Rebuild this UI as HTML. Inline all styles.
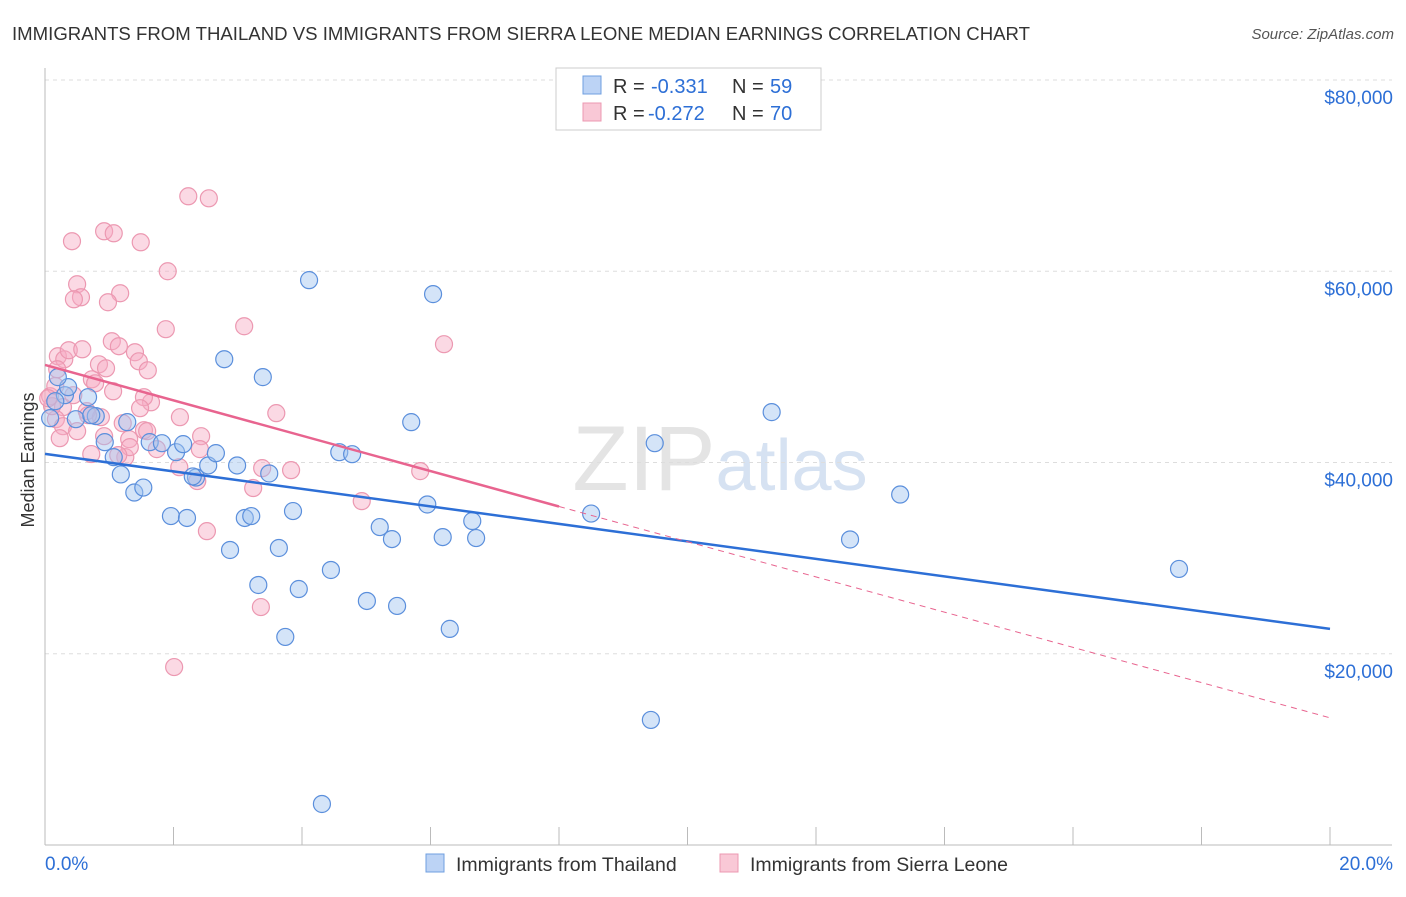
<!DOCTYPE html>
<html><head><meta charset="utf-8"><style>
body{margin:0;background:#fff;font-family:"Liberation Sans",sans-serif;}
svg text{font-family:"Liberation Sans",sans-serif;white-space:pre;}
</style></head><body>
<svg id="chart" width="1406" height="892" xmlns="http://www.w3.org/2000/svg">
<text x="12" y="40" font-size="18.6" fill="#333" textLength="1018">IMMIGRANTS FROM THAILAND VS IMMIGRANTS FROM SIERRA LEONE MEDIAN EARNINGS CORRELATION CHART</text>
<text x="1394" y="39" font-size="15" fill="#555" text-anchor="end" font-style="italic">Source: ZipAtlas.com</text>
<text x="720" y="490" font-size="92" fill="#e4e4e4" text-anchor="middle" font-family="Liberation Serif">ZIP<tspan fill="#d6e2f2" font-family="Liberation Sans" font-size="72">atlas</tspan></text>
<text transform="translate(34,460) rotate(-90)" font-size="18" fill="#333" text-anchor="middle">Median Earnings</text>
<g id="grid"></g><g id="pts"></g><g id="lines"></g>
<g>
<rect x="556" y="68" width="265" height="62" fill="#fff" stroke="#ccc"/>
<rect x="583" y="76" width="18" height="18" fill="#bcd3f5" stroke="#6f9fe0"/>
<rect x="583" y="103" width="18" height="18" fill="#f9c8d6" stroke="#ec98b1"/>
<text x="613" y="93" font-size="20" fill="#333">R =</text><text x="651" y="93" font-size="20" fill="#2d6fd6">-0.331</text>
<text x="732" y="93" font-size="20" fill="#333">N =</text><text x="770" y="93" font-size="20" fill="#2d6fd6">59</text>
<text x="613" y="120" font-size="20" fill="#333">R =</text><text x="648" y="120" font-size="20" fill="#2d6fd6">-0.272</text>
<text x="732" y="120" font-size="20" fill="#333">N =</text><text x="770" y="120" font-size="20" fill="#2d6fd6">70</text>
</g>
<g>
<rect x="426" y="854" width="18" height="18" fill="#bcd3f5" stroke="#6f9fe0"/>
<text x="456" y="871" font-size="19.5" fill="#333">Immigrants from Thailand</text>
<rect x="720" y="854" width="18" height="18" fill="#f9c8d6" stroke="#ec98b1"/>
<text x="750" y="871" font-size="19.5" fill="#333">Immigrants from Sierra Leone</text>
</g>
</svg>
<script>
const yTicks=[20000,40000,60000,80000];
const yTickLabels=["$20,000","$40,000","$60,000","$80,000"];
const xTickLabels=["0.0%","20.0%"];
const blueX=[4.31,9.43,3.74,6.30,5.48,5.01,3.32,3.95,4.45,3.64,2.88,5.40,6.19,6.71,5.21,6.65,3.11,3.21,3.86,1.96,2.21,5.95,8.50,1.39,1.53,2.35,2.30,3.49,1.18,2.54,2.99,1.07,2.04,2.66,4.58,4.78,1.63,1.82,2.15,0.93,1.28,0.48,0.79,0.72,0.31,0.16,0.08,0.36,0.20,0.67,2.79,3.39,4.11,6.04,5.70,9.49,11.31,13.31,12.53,17.65];
const blueY=[4290,13080,21760,22600,25000,25520,27190,26770,28760,31060,30850,31990,32200,32100,33250,33880,34200,34400,34920,34400,34200,35610,34660,36860,37380,38430,38540,38850,38750,39690,39690,40560,41080,40980,41080,40870,42130,42020,41920,42130,44220,44530,44850,44950,47040,46410,44640,47880,48930,46830,50800,48930,59070,57610,44220,42020,45270,36650,31950,28870];
const pinkX=[2.23,2.55,0.42,0.92,1.07,1.49,1.91,0.50,0.56,0.45,1.17,0.98,1.88,3.10,6.21,1.04,1.15,1.40,0.20,0.30,0.37,0.58,0.84,0.95,1.46,1.60,0.19,0.73,1.06,1.65,1.54,3.60,2.10,0.28,0.65,0.87,1.21,0.17,0.28,0.50,1.54,1.59,0.92,1.31,1.74,2.43,2.41,0.72,1.25,2.09,3.38,3.83,5.84,3.24,2.37,4.93,2.52,3.36,2.01,0.08,0.11,0.16,0.67,0.78,1.32,0.05,0.23,1.14,0.44,1.48];
const pinkY=[67840,67630,63140,64180,63970,63030,60000,58640,57280,57070,57700,56760,53940,54250,52370,52680,52160,51530,51110,50790,51740,51840,50270,49850,50580,49640,49750,48700,47450,46300,46830,45160,44740,45790,45370,44740,44110,44530,43800,43280,43380,43280,42750,42440,41400,42750,41400,40880,40560,39510,39410,39200,39100,37330,38060,35960,32820,24880,18610,46930,45890,48000,44950,48280,41610,46720,42540,40770,47040,45680];
const blueTrend=[40900,22600];
const pinkTrend=[50200,35400,13300];
const X0=45,X1=1330,YB=845,YT=80;
const xs=v=>X0+v/20*(X1-X0);
const ys=v=>YB-v/80000*(YB-YT);
const NS="http://www.w3.org/2000/svg";
function mk(tag,attrs,parent){const e=document.createElementNS(NS,tag);for(const k in attrs)e.setAttribute(k,attrs[k]);parent.appendChild(e);return e;}
const grid=document.getElementById('grid');
yTicks.forEach((t,i)=>{
 const l=mk('line',{x1:X0,x2:1392,y1:ys(t),y2:ys(t),stroke:'#ddd','stroke-dasharray':'4,4'},grid);
 
 
 const tx=mk('text',{x:1393,y:ys(t)+24,'font-size':19,fill:'#2d6fd6','text-anchor':'end'},grid);
 tx.textContent=yTickLabels[i];
 
 
});
const ax=mk('line',{x1:X0,x2:X0,y1:68,y2:YB,stroke:'#bbb'},grid);


const bx=mk('line',{x1:X0,x2:1392,y1:YB,y2:YB,stroke:'#bbb'},grid);


for(let i=0;i<=10;i++){const t=mk('line',{x1:xs(i*2),x2:xs(i*2),y1:YB,y2:YB-18,stroke:'#bbb'},grid);
 
 }
const xl0=mk('text',{x:45,y:870,'font-size':19,fill:'#2d6fd6'},grid);xl0.textContent=xTickLabels[0];


const xl1=mk('text',{x:1393,y:870,'font-size':19,fill:'#2d6fd6','text-anchor':'end'},grid);xl1.textContent=xTickLabels[1];


const pts=document.getElementById('pts');
pinkX.forEach((v,i)=>{const c=mk('circle',{cx:xs(v),cy:ys(pinkY[i]),r:8.5,fill:'rgba(246,170,195,0.45)',stroke:'#ec98b1','stroke-width':1.2},pts);
 
 });
blueX.forEach((v,i)=>{const c=mk('circle',{cx:xs(v),cy:ys(blueY[i]),r:8.5,fill:'rgba(160,195,240,0.45)',stroke:'#5b8fdc','stroke-width':1.2},pts);
 
 });
const lines=document.getElementById('lines');
const bl=mk('line',{x1:xs(0),y1:ys(blueTrend[0]),x2:xs(20),y2:ys(blueTrend[1]),stroke:'#2d6fd6','stroke-width':2.5},lines);


const pl=mk('line',{x1:xs(0),y1:ys(pinkTrend[0]),x2:xs(8),y2:ys(pinkTrend[1]),stroke:'#e8648f','stroke-width':2.5},lines);


const pd=mk('line',{x1:xs(8),y1:ys(pinkTrend[1]),x2:xs(20),y2:ys(pinkTrend[2]),stroke:'#e8648f','stroke-width':1,'stroke-dasharray':'6,5'},lines);


</script>
</body></html>
